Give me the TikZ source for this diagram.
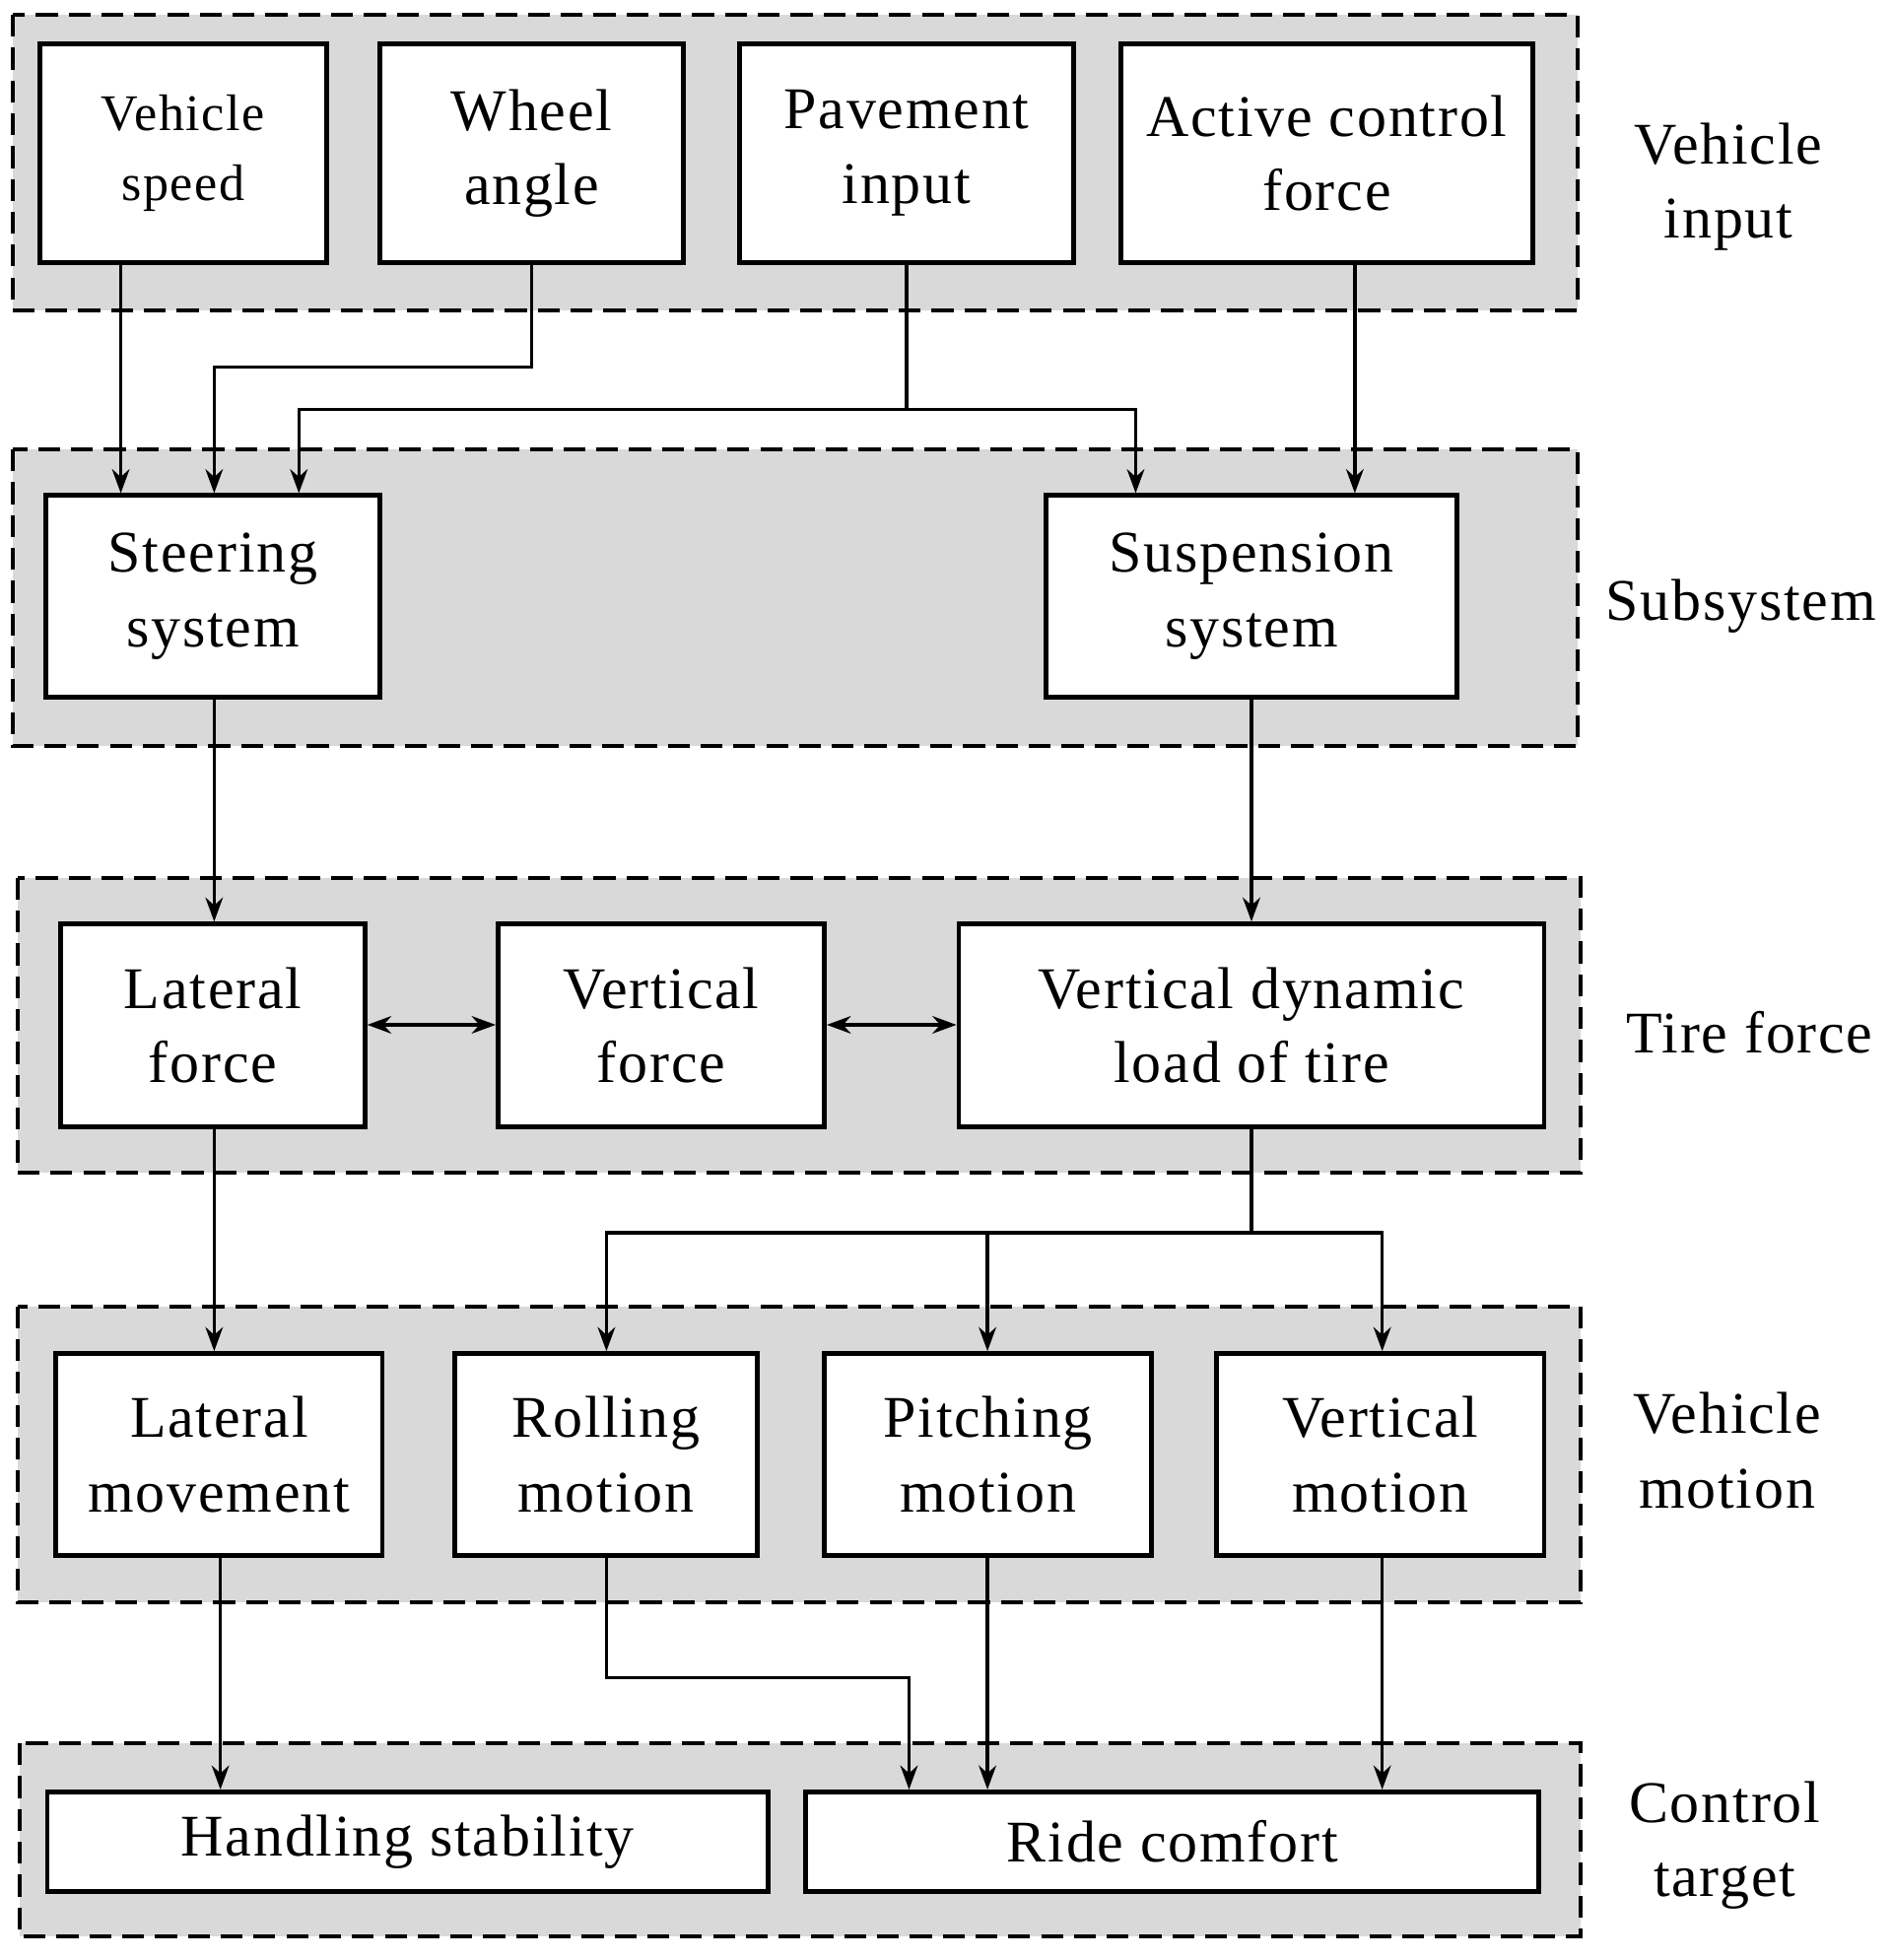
\documentclass[tikz,border=0pt]{standalone}
\usepackage{fontspec}
\setmainfont{Liberation Serif}[LetterSpace=3]
\usetikzlibrary{arrows.meta}
\begin{document}
\begin{tikzpicture}[x=0.02cm,y=-0.02cm,
 grp/.style={draw,fill=gray!30,line width=1.8pt,dash pattern=on 10pt off 5pt},
 box/.style={draw,fill=white,line width=2.2pt,align=center,font=\fontsize{27}{34}\selectfont},
 sbox/.style={box,font=\fontsize{23.5}{32}\selectfont},
 lab/.style={align=center,font=\fontsize{27}{34}\selectfont},
 arr/.style={-{Stealth[length=11pt,width=8pt]},line width=1.5pt},
 darr/.style={{Stealth[length=11pt,width=8pt]}-{Stealth[length=11pt,width=8pt]},line width=1.5pt}]
\useasboundingbox (0,0) rectangle (1519,1574);
\fill[white] (0,0) rectangle (1519,1574);
\path[grp] (10,12) rectangle (1267,249);
\path[grp] (10,361) rectangle (1267,599);
\path[grp] (14,705) rectangle (1269,942);
\path[grp] (14,1049) rectangle (1269,1287);
\path[grp] (16,1400) rectangle (1269,1555);
\newcommand{\bx}[6]{\node[#1,minimum width={(#4-#3)*0.02cm},minimum height={(#6-#5)*0.02cm},inner sep=0pt] (#2) at ({(#3+#4)/2},{(#5+#6)/2})}
\bx{sbox}{vs}{32}{262}{35}{211}{Vehicle\\speed};
\bx{box}{wa}{305}{549}{35}{211}{Wheel\\angle};
\bx{box}{pi}{594}{862}{35}{211}{Pavement\\input};
\bx{box}{ac}{900}{1231}{35}{211}{Active control\\force};
\bx{box}{st}{37}{305}{398}{560}{Steering\\system};
\bx{box}{su}{840}{1170}{398}{560}{Suspension\\system};
\bx{box}{lf}{49}{293}{742}{905}{Lateral\\force};
\bx{box}{vf}{400}{662}{742}{905}{Vertical\\force};
\bx{box}{vd}{770}{1240}{742}{905}{Vertical dynamic\\load of tire};
\bx{box}{lm}{45}{307}{1087}{1249}{Lateral\\movement};
\bx{box}{ro}{365}{608}{1087}{1249}{Rolling\\motion};
\bx{box}{pm}{662}{925}{1087}{1249}{Pitching\\motion};
\bx{box}{vm}{977}{1240}{1087}{1249}{Vertical\\motion};
\bx{box}{hs}{38}{617}{1439}{1519}{Handling stability};
\bx{box}{rc}{647}{1236}{1439}{1519}{Ride comfort};
\node[lab] (l1) at (1388,150) {Vehicle\\input};
\node[lab] (l2) at (1398,487) {Subsystem};
\node[lab] (l3) at (1405,829) {Tire force};
\node[lab] (l4) at (1387,1165) {Vehicle\\motion};
\node[lab] (l5) at (1385,1482) {Control\\target};
\draw[arr] (vs.south -| 97,0) -- (st.north -| 97,0);
\draw[arr] (wa.south) |- (172,295) -- (st.north -| 172,0);
\coordinate (pj) at (728,329);
\draw[line width=1.5pt] (pi.south) -- (pj);
\draw[arr] (pj) -| (st.north -| 240,0);
\draw[arr] (pj) -| (su.north -| 912,0);
\draw[arr] (ac.south -| 1088,0) -- (su.north -| 1088,0);
\draw[arr] (st.south -| 172,0) -- (lf.north -| 172,0);
\draw[arr] (su.south -| 1005,0) -- (vd.north -| 1005,0);
\draw[darr] (lf.east |- 0,823) -- (vf.west |- 0,823);
\draw[darr] (vf.east |- 0,823) -- (vd.west |- 0,823);
\draw[arr] (lf.south -| 172,0) -- (lm.north -| 172,0);
\coordinate (vj) at (1005,990);
\draw[line width=1.5pt] (vd.south -| 1005,0) -- (vj);
\draw[arr] (vj) -| (ro.north -| 487,0);
\draw[arr] (793,990) -- (pm.north -| 793,0);
\draw[arr] (vj) -| (vm.north -| 1110,0);
\draw[arr] (lm.south -| 177,0) -- (hs.north -| 177,0);
\draw[arr] (ro.south -| 487,0) |- (730,1347) -- (rc.north -| 730,0);
\draw[arr] (pm.south -| 793,0) -- (rc.north -| 793,0);
\draw[arr] (vm.south -| 1110,0) -- (rc.north -| 1110,0);
\end{tikzpicture}
\end{document}
